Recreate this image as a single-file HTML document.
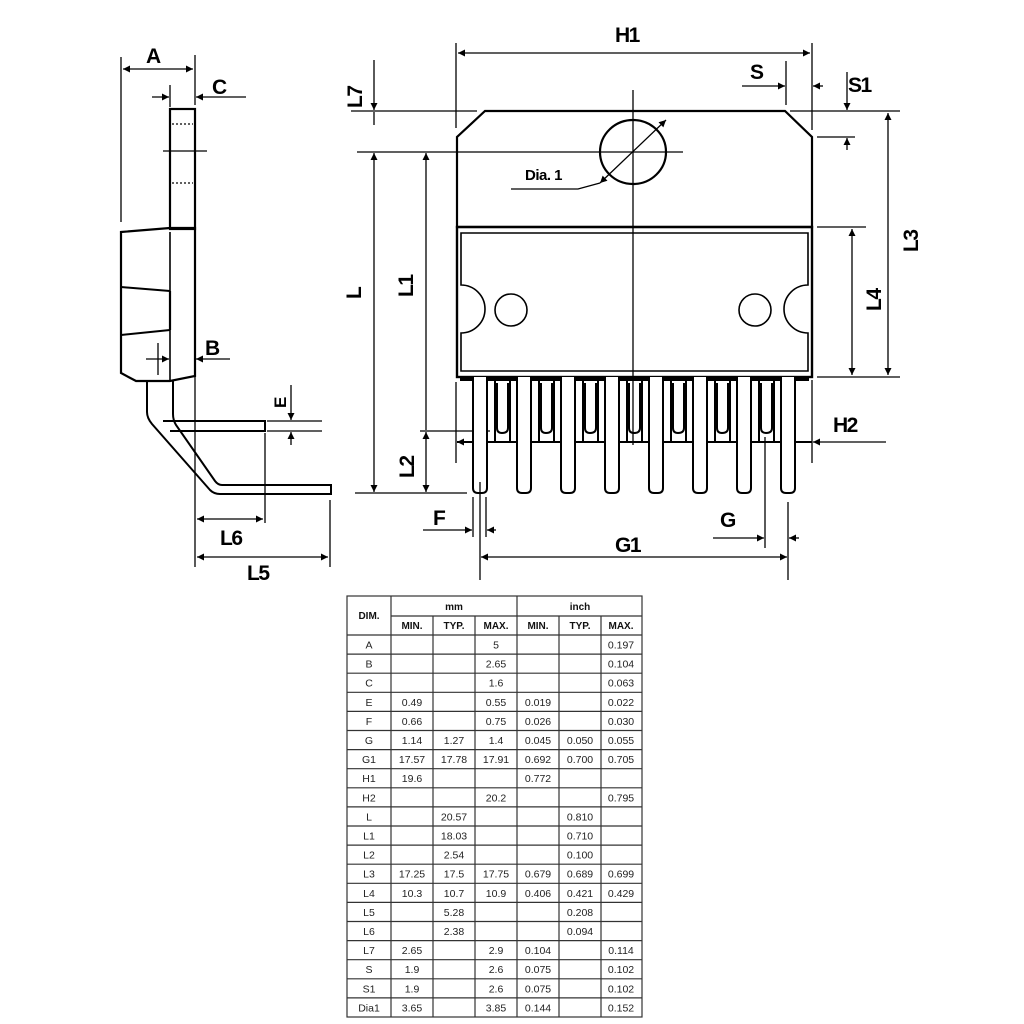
<!DOCTYPE html>
<html><head><meta charset="utf-8"><style>
html,body{margin:0;padding:0;background:#fff;}
svg{display:block;}
.lb{font-family:"Liberation Sans",sans-serif;font-weight:bold;font-size:21px;fill:#000;letter-spacing:-1.5px;}
.th{font-family:"Liberation Sans",sans-serif;font-weight:bold;font-size:10px;fill:#111;text-anchor:middle;}
.td{font-family:"Liberation Sans",sans-serif;font-size:10.5px;fill:#222;text-anchor:middle;}
</style></head><body>
<svg width="1024" height="1024" viewBox="0 0 1024 1024" xmlns="http://www.w3.org/2000/svg">
<defs>
<marker id="a" viewBox="0 0 10 10" refX="10" refY="5" markerWidth="9" markerHeight="7" orient="auto-start-reverse" markerUnits="userSpaceOnUse"><path d="M0,0 L10,5 L0,10 z" fill="#000"/></marker>
</defs>
<g stroke="#000" fill="none" stroke-width="1.3">
<!-- SIDE VIEW -->
<line x1="121" y1="57" x2="121" y2="222"/>
<line x1="195" y1="55" x2="195" y2="105"/>
<line x1="123" y1="69" x2="193" y2="69" marker-start="url(#a)" marker-end="url(#a)"/>
<line x1="170" y1="85" x2="170" y2="107"/>
<line x1="152" y1="97" x2="169" y2="97" marker-end="url(#a)"/>
<line x1="246" y1="97" x2="196" y2="97" marker-end="url(#a)"/>
<rect x="170" y="109" width="25" height="120" stroke-width="2.2"/>
<line x1="172" y1="124" x2="193" y2="124" stroke-dasharray="2,2"/>
<line x1="172" y1="183" x2="193" y2="183" stroke-dasharray="2,2"/>
<line x1="163" y1="151" x2="207" y2="151"/>
<path d="M121,232 L170,228 L195,228 L195,376 L170,381 L136,381 L121,373 Z" stroke-width="2.2"/>
<line x1="170" y1="232" x2="170" y2="380" stroke-width="1.6"/>
<line x1="121" y1="287" x2="170" y2="291" stroke-width="2"/>
<line x1="121" y1="335" x2="170" y2="330" stroke-width="2"/>
<line x1="170" y1="291" x2="170" y2="330" stroke-width="2.2"/>
<line x1="158" y1="343" x2="158" y2="375"/>
<line x1="146" y1="359" x2="169" y2="359" marker-end="url(#a)"/>
<line x1="230" y1="359" x2="196" y2="359" marker-end="url(#a)"/>
<path d="M147,381 V412 Q147,418 152,424 L210,490 Q214,494 220,494 H331 V485 H222 Q218,485 215,481 L176,425 Q173,420 173,414 V381" stroke-width="2"/>
<path d="M163,421 H265 V431 H170" stroke-width="2"/>
<line x1="267" y1="421" x2="322" y2="421"/>
<line x1="267" y1="431" x2="322" y2="431"/>
<line x1="291" y1="385" x2="291" y2="420" marker-end="url(#a)"/>
<line x1="291" y1="445" x2="291" y2="432" marker-end="url(#a)"/>
<line x1="195" y1="376" x2="195" y2="567"/>
<line x1="265" y1="433" x2="265" y2="523"/>
<line x1="330" y1="500" x2="330" y2="567"/>
<line x1="197" y1="519" x2="263" y2="519" marker-start="url(#a)" marker-end="url(#a)"/>
<line x1="197" y1="557" x2="328" y2="557" marker-start="url(#a)" marker-end="url(#a)"/>

<!-- FRONT VIEW -->
<line x1="456" y1="43" x2="456" y2="128"/>
<line x1="812" y1="43" x2="812" y2="130"/>
<line x1="458" y1="53" x2="810" y2="53" marker-start="url(#a)" marker-end="url(#a)"/>
<line x1="786" y1="61" x2="786" y2="105"/>
<line x1="742" y1="86" x2="785" y2="86" marker-end="url(#a)"/>
<line x1="823" y1="86" x2="813" y2="86" marker-end="url(#a)"/>
<line x1="790" y1="111" x2="900" y2="111"/>
<line x1="817" y1="137" x2="855" y2="137"/>
<line x1="847" y1="72" x2="847" y2="110" marker-end="url(#a)"/>
<line x1="847" y1="150" x2="847" y2="138" marker-end="url(#a)"/>
<path d="M485,111 H785 L812,137 V227 H457 V137 Z" stroke-width="2.2"/>
<rect x="457" y="227" width="355" height="150" stroke-width="2.4"/>
<path d="M461,233 H808 V285 A24,24 0 0 0 808,333 V371 H461 V333 A24,24 0 0 0 461,285 Z" stroke-width="1.6"/>
<circle cx="511" cy="310" r="16" stroke-width="1.6"/>
<circle cx="755" cy="310" r="16" stroke-width="1.6"/>
<ellipse cx="633" cy="152" rx="33" ry="32" stroke-width="2.2"/>
<line x1="633" y1="90" x2="633" y2="445"/>
<line x1="357" y1="152" x2="683" y2="152"/>
<line x1="351" y1="111" x2="477" y2="111"/>
<line x1="600" y1="183" x2="666" y2="120" marker-start="url(#a)" marker-end="url(#a)"/>
<polyline points="511,189 578,189 600,183"/>
<line x1="374" y1="60" x2="374" y2="110" marker-end="url(#a)"/>
<line x1="374" y1="125" x2="374" y2="112"/>
<line x1="374" y1="153" x2="374" y2="492" marker-start="url(#a)" marker-end="url(#a)"/>
<line x1="426" y1="153" x2="426" y2="430" marker-start="url(#a)"/>
<line x1="426" y1="432" x2="426" y2="492" marker-start="url(#a)" marker-end="url(#a)"/>
<line x1="420" y1="431" x2="490" y2="431"/>
<line x1="355" y1="493" x2="467" y2="493"/>
<line x1="817" y1="227" x2="866" y2="227"/>
<line x1="817" y1="377" x2="900" y2="377"/>
<line x1="852" y1="229" x2="852" y2="375" marker-start="url(#a)" marker-end="url(#a)"/>
<line x1="888" y1="113" x2="888" y2="375" marker-start="url(#a)" marker-end="url(#a)"/>
<!-- pins -->
<line x1="457" y1="442" x2="812" y2="442" stroke-width="2"/>
<rect x="460" y="376" width="349" height="5" fill="#000" stroke="none"/>
<g stroke-width="2" fill="#fff">
<path d="M473,377 V488 Q473,493 478,493 H482 Q487,493 487,488 V377"/>
<path d="M517,377 V488 Q517,493 522,493 H526 Q531,493 531,488 V377"/>
<path d="M561,377 V488 Q561,493 566,493 H570 Q575,493 575,488 V377"/>
<path d="M605,377 V488 Q605,493 610,493 H614 Q619,493 619,488 V377"/>
<path d="M649,377 V488 Q649,493 654,493 H658 Q663,493 663,488 V377"/>
<path d="M693,377 V488 Q693,493 698,493 H702 Q707,493 707,488 V377"/>
<path d="M737,377 V488 Q737,493 742,493 H746 Q751,493 751,488 V377"/>
<path d="M781,377 V488 Q781,493 786,493 H790 Q795,493 795,488 V377"/>
</g>
<g stroke-width="2">
<path d="M495,377 V442 M510,377 V442 M497,383 V428 Q497,433 502,433 Q508,433 508,428 V383"/>
<path d="M539,377 V442 M554,377 V442 M541,383 V428 Q541,433 546,433 Q552,433 552,428 V383"/>
<path d="M583,377 V442 M598,377 V442 M585,383 V428 Q585,433 590,433 Q596,433 596,428 V383"/>
<path d="M627,377 V442 M642,377 V442 M629,383 V428 Q629,433 634,433 Q640,433 640,428 V383"/>
<path d="M671,377 V442 M686,377 V442 M673,383 V428 Q673,433 678,433 Q684,433 684,428 V383"/>
<path d="M715,377 V442 M730,377 V442 M717,383 V428 Q717,433 722,433 Q728,433 728,428 V383"/>
<path d="M759,377 V442 M774,377 V442 M761,383 V428 Q761,433 766,433 Q772,433 772,428 V383"/>
</g>
<line x1="456" y1="382" x2="456" y2="463"/>
<line x1="812" y1="380" x2="812" y2="463"/>
<line x1="473" y1="442" x2="457" y2="442" marker-end="url(#a)"/>
<line x1="886" y1="442" x2="813" y2="442" marker-end="url(#a)"/>
<line x1="473" y1="497" x2="473" y2="537"/>
<line x1="486" y1="497" x2="486" y2="537"/>
<line x1="423" y1="530" x2="472" y2="530" marker-end="url(#a)"/>
<line x1="496" y1="530" x2="487" y2="530" marker-end="url(#a)"/>
<line x1="765" y1="437" x2="765" y2="548"/>
<line x1="788" y1="502" x2="788" y2="580"/>
<line x1="713" y1="538" x2="764" y2="538" marker-end="url(#a)"/>
<line x1="799" y1="538" x2="789" y2="538" marker-end="url(#a)"/>
<line x1="480" y1="482" x2="480" y2="580"/>
<line x1="481" y1="557" x2="787" y2="557" marker-start="url(#a)" marker-end="url(#a)"/>
</g>
<!-- labels -->
<g class="lb">
<text x="146" y="63">A</text>
<text x="212" y="94">C</text>
<text x="205" y="355">B</text>
<text x="220" y="545">L6</text>
<text x="247" y="580">L5</text>
<text x="615" y="42">H1</text>
<text x="750" y="79">S</text>
<text x="848" y="92">S1</text>
<text x="833" y="432">H2</text>
<text x="433" y="525">F</text>
<text x="720" y="527">G</text>
<text x="615" y="552">G1</text>
<text x="525" y="180" style="font-size:15px;letter-spacing:-0.5px">Dia. 1</text>
<text transform="translate(286,408) rotate(-90)" style="font-size:17px">E</text>
<text transform="translate(362,108) rotate(-90)">L7</text>
<text transform="translate(361,299) rotate(-90)">L</text>
<text transform="translate(413,297) rotate(-90)">L1</text>
<text transform="translate(414,478) rotate(-90)">L2</text>
<text transform="translate(881,311) rotate(-90)">L4</text>
<text transform="translate(918,252) rotate(-90)">L3</text>
</g>
<!-- TABLE -->
<g stroke="#333" stroke-width="1.2">
<rect x="347" y="596" width="295" height="421" fill="none"/>
<line x1="391" y1="596" x2="391" y2="1017"/>
<line x1="517" y1="596" x2="517" y2="1017"/>
<line x1="433" y1="616" x2="433" y2="1017"/>
<line x1="475" y1="616" x2="475" y2="1017"/>
<line x1="559" y1="616" x2="559" y2="1017"/>
<line x1="601" y1="616" x2="601" y2="1017"/>
<line x1="391" y1="616" x2="642" y2="616"/>
<line x1="347" y1="635" x2="642" y2="635"/>
<line x1="347" y1="654.1" x2="642" y2="654.1"/><line x1="347" y1="673.2" x2="642" y2="673.2"/><line x1="347" y1="692.3" x2="642" y2="692.3"/><line x1="347" y1="711.4" x2="642" y2="711.4"/><line x1="347" y1="730.5" x2="642" y2="730.5"/><line x1="347" y1="749.6" x2="642" y2="749.6"/><line x1="347" y1="768.7" x2="642" y2="768.7"/><line x1="347" y1="787.8" x2="642" y2="787.8"/><line x1="347" y1="806.9" x2="642" y2="806.9"/><line x1="347" y1="826" x2="642" y2="826"/><line x1="347" y1="845.1" x2="642" y2="845.1"/><line x1="347" y1="864.2" x2="642" y2="864.2"/><line x1="347" y1="883.3" x2="642" y2="883.3"/><line x1="347" y1="902.4" x2="642" y2="902.4"/><line x1="347" y1="921.5" x2="642" y2="921.5"/><line x1="347" y1="940.6" x2="642" y2="940.6"/><line x1="347" y1="959.7" x2="642" y2="959.7"/><line x1="347" y1="978.8" x2="642" y2="978.8"/><line x1="347" y1="997.9" x2="642" y2="997.9"/>
</g>
<g class="th">
<text x="369" y="619">DIM.</text>
<text x="454" y="610">mm</text><text x="580" y="610">inch</text>
<text x="412" y="629">MIN.</text><text x="454" y="629">TYP.</text><text x="496" y="629">MAX.</text>
<text x="538" y="629">MIN.</text><text x="580" y="629">TYP.</text><text x="621" y="629">MAX.</text>
</g>
<g class="td">
<text x="369" y="648.5">A</text><text x="496" y="648.5">5</text><text x="621" y="648.5">0.197</text>
<text x="369" y="667.6">B</text><text x="496" y="667.6">2.65</text><text x="621" y="667.6">0.104</text>
<text x="369" y="686.7">C</text><text x="496" y="686.7">1.6</text><text x="621" y="686.7">0.063</text>
<text x="369" y="705.8">E</text><text x="412" y="705.8">0.49</text><text x="496" y="705.8">0.55</text><text x="538" y="705.8">0.019</text><text x="621" y="705.8">0.022</text>
<text x="369" y="724.9">F</text><text x="412" y="724.9">0.66</text><text x="496" y="724.9">0.75</text><text x="538" y="724.9">0.026</text><text x="621" y="724.9">0.030</text>
<text x="369" y="744">G</text><text x="412" y="744">1.14</text><text x="454" y="744">1.27</text><text x="496" y="744">1.4</text><text x="538" y="744">0.045</text><text x="580" y="744">0.050</text><text x="621" y="744">0.055</text>
<text x="369" y="763.1">G1</text><text x="412" y="763.1">17.57</text><text x="454" y="763.1">17.78</text><text x="496" y="763.1">17.91</text><text x="538" y="763.1">0.692</text><text x="580" y="763.1">0.700</text><text x="621" y="763.1">0.705</text>
<text x="369" y="782.2">H1</text><text x="412" y="782.2">19.6</text><text x="538" y="782.2">0.772</text>
<text x="369" y="801.3">H2</text><text x="496" y="801.3">20.2</text><text x="621" y="801.3">0.795</text>
<text x="369" y="820.4">L</text><text x="454" y="820.4">20.57</text><text x="580" y="820.4">0.810</text>
<text x="369" y="839.5">L1</text><text x="454" y="839.5">18.03</text><text x="580" y="839.5">0.710</text>
<text x="369" y="858.6">L2</text><text x="454" y="858.6">2.54</text><text x="580" y="858.6">0.100</text>
<text x="369" y="877.7">L3</text><text x="412" y="877.7">17.25</text><text x="454" y="877.7">17.5</text><text x="496" y="877.7">17.75</text><text x="538" y="877.7">0.679</text><text x="580" y="877.7">0.689</text><text x="621" y="877.7">0.699</text>
<text x="369" y="896.8">L4</text><text x="412" y="896.8">10.3</text><text x="454" y="896.8">10.7</text><text x="496" y="896.8">10.9</text><text x="538" y="896.8">0.406</text><text x="580" y="896.8">0.421</text><text x="621" y="896.8">0.429</text>
<text x="369" y="915.9">L5</text><text x="454" y="915.9">5.28</text><text x="580" y="915.9">0.208</text>
<text x="369" y="935">L6</text><text x="454" y="935">2.38</text><text x="580" y="935">0.094</text>
<text x="369" y="954.1">L7</text><text x="412" y="954.1">2.65</text><text x="496" y="954.1">2.9</text><text x="538" y="954.1">0.104</text><text x="621" y="954.1">0.114</text>
<text x="369" y="973.2">S</text><text x="412" y="973.2">1.9</text><text x="496" y="973.2">2.6</text><text x="538" y="973.2">0.075</text><text x="621" y="973.2">0.102</text>
<text x="369" y="992.3">S1</text><text x="412" y="992.3">1.9</text><text x="496" y="992.3">2.6</text><text x="538" y="992.3">0.075</text><text x="621" y="992.3">0.102</text>
<text x="369" y="1011.4">Dia1</text><text x="412" y="1011.4">3.65</text><text x="496" y="1011.4">3.85</text><text x="538" y="1011.4">0.144</text><text x="621" y="1011.4">0.152</text>
</g>
</svg>
</body></html>
